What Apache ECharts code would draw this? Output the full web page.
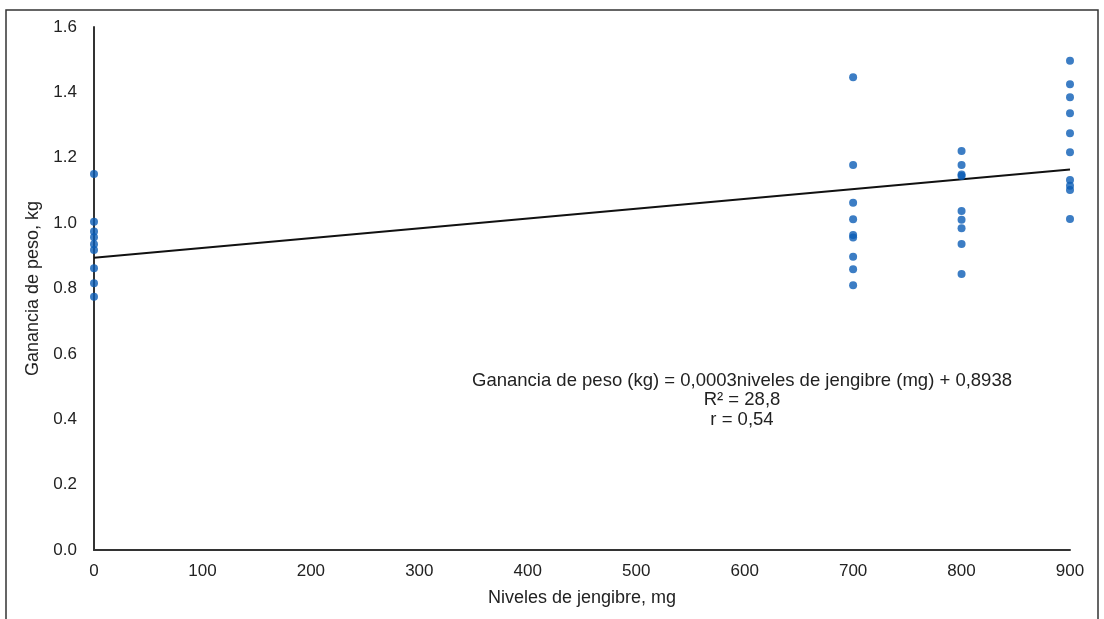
<!DOCTYPE html>
<html>
<head>
<meta charset="utf-8">
<script src="https://cdn.jsdelivr.net/npm/echarts@6/dist/echarts.min.js"></script>
<style>
  html, body { margin: 0; padding: 0; background: #fff; }
  #chart { width: 1104px; height: 619px; }
</style>
</head>
<body>
<div id="chart"></div>
<script>
// Weight gain (kg) observed at each ginger dose (mg)
const dose0 = [1.150, 1.004, 0.974, 0.957, 0.935, 0.918, 0.862, 0.816, 0.775];
const dose700 = [1.446, 1.178, 1.062, 1.012, 0.964, 0.956, 0.897, 0.859, 0.810];
const dose800 = [1.221, 1.178, 1.149, 1.144, 1.037, 1.010, 0.984, 0.936, 0.844];
const dose900 = [1.497, 1.425, 1.385, 1.336, 1.275, 1.217, 1.132, 1.114, 1.101, 1.013];
const doseLevels = [0, 700, 800, 900];

// Fitted regression: gain = slope * dose + intercept
const slope = 0.0003;
const intercept = 0.8938;
const fitRange = [0, 900];

const equationLines = [
  'Ganancia de peso (kg) = 0,0003niveles de jengibre (mg) + 0,8938',
  'R² = 28,8',
  'r = 0,54'
];

const groups = [dose0, dose700, dose800, dose900];
const points = [];
groups.forEach((vals, i) => vals.forEach(v => points.push([doseLevels[i], v])));
const fitLine = fitRange.map(x => [x, slope * x + intercept]);

const font = 'Liberation Sans, Arial, sans-serif';
const chart = echarts.init(document.getElementById('chart'));
chart.setOption({
  animation: false,
  backgroundColor: '#fff',
  grid: { left: 94, right: 34, top: 27, bottom: 69 },
  xAxis: {
    type: 'value', min: 0, max: 900, interval: 100,
    name: 'Niveles de jengibre, mg', nameLocation: 'middle', nameGap: 39,
    nameTextStyle: { fontFamily: font, fontSize: 18, color: '#222' },
    axisLine: { lineStyle: { color: '#333', width: 2 } },
    axisTick: { show: false },
    splitLine: { show: false },
    axisLabel: { fontFamily: font, fontSize: 17, color: '#222', margin: 13 }
  },
  yAxis: {
    type: 'value', min: 0, max: 1.6, interval: 0.2,
    name: 'Ganancia de peso, kg', nameLocation: 'middle', nameGap: 50,
    nameTextStyle: { fontFamily: font, fontSize: 18, color: '#222' },
    axisLine: { show: true, lineStyle: { color: '#333', width: 2 } },
    axisTick: { show: false },
    splitLine: { show: false },
    axisLabel: { fontFamily: font, fontSize: 17, color: '#222', margin: 17,
      formatter: v => v.toFixed(1) }
  },
  series: [
    {
      type: 'line', data: fitLine, symbol: 'none', z: 3,
      lineStyle: { color: '#111', width: 2 }
    },
    {
      type: 'scatter', data: points, symbolSize: 8, z: 4,
      itemStyle: { color: '#0b5db5' }
    }
  ],
  graphic: [
    {
      type: 'rect', shape: { x: 6, y: 10, width: 1092, height: 640 },
      style: { fill: 'none', stroke: '#333', lineWidth: 1.5 }, z: 0, silent: true
    },
    {
      type: 'text', x: 742, y: 371,
      style: {
        text: equationLines.join('\n'), textAlign: 'center', textVerticalAlign: 'top',
        fontFamily: font, fontSize: 18.5, lineHeight: 19.5, fill: '#222'
      }
    }
  ]
});
</script>
</body>
</html>
